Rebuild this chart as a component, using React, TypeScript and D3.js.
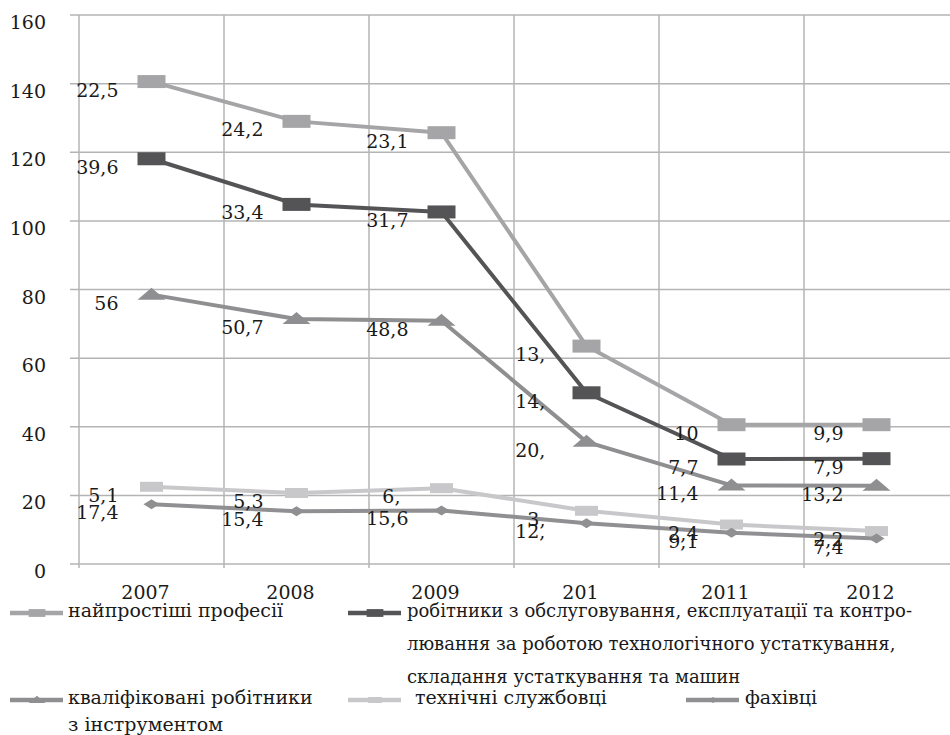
import React from 'react';
import * as d3 from 'd3';

const categories = ['2007', '2008', '2009', '201', '2011', '2012'];
const yTicks = [0, 20, 40, 60, 80, 100, 120, 140, 160];

// series values (stacked in the chart)
const simplest = [22.5, 24.2, 23.1, 13.6, 10, 9.9];
const workers = [39.6, 33.4, 31.7, 14.3, 7.7, 7.9];
const qualified = [56, 50.7, 48.8, 20.1, 11.4, 13.2];
const clerks = [5.1, 5.3, 6.5, 3.6, 2.4, 2.2];
const specialists = [17.4, 15.4, 15.6, 11.9, 9.1, 7.4];

// data labels as shown in the picture
const simplestLabels = ['22,5', '24,2', '23,1', '13,', '10', '9,9'];
const workersLabels = ['39,6', '33,4', '31,7', '14,', '7,7', '7,9'];
const qualifiedLabels = ['56', '50,7', '48,8', '20,', '11,4', '13,2'];
const clerksLabels = ['5,1', '5,3', '6,', '3,', '2,4', '2,2'];
const specialistsLabels = ['17,4', '15,4', '15,6', '12,', '9,1', '7,4'];

type Marker = 'square' | 'triangle' | 'diamond' | 'smallsquare';

const seriesDefs: { key: string; values: number[]; labels: string[]; color: string; marker: Marker }[] = [
  { key: 'specialists', values: specialists, labels: specialistsLabels, color: '#909092', marker: 'diamond' },
  { key: 'clerks', values: clerks, labels: clerksLabels, color: '#c8c8ca', marker: 'smallsquare' },
  { key: 'qualified', values: qualified, labels: qualifiedLabels, color: '#8f8f91', marker: 'triangle' },
  { key: 'workers', values: workers, labels: workersLabels, color: '#545456', marker: 'square' },
  { key: 'simplest', values: simplest, labels: simplestLabels, color: '#a5a5a7', marker: 'square' },
];

const legendItems: { key: string; lines: string[] }[] = [
  { key: 'simplest', lines: ['найпростіші професії'] },
  { key: 'workers', lines: ['робітники з обслуговування, експлуатації та контро-', 'лювання за роботою технологічного устаткування,', 'складання устаткування та машин'] },
  { key: 'qualified', lines: ['кваліфіковані робітники', 'з інструментом'] },
  { key: 'clerks', lines: ['технічні службовці'] },
  { key: 'specialists', lines: ['фахівці'] },
];

const W = 950;
const H = 735;
const FONT = '"DejaVu Serif", serif';

function markerPath(m: Marker, scale = 1): string {
  if (m === 'square') {
    const w = 14 * scale, h = 6.5 * scale;
    return `M${-w},${-h}H${w}V${h}H${-w}Z`;
  }
  if (m === 'smallsquare') {
    const w = 11.5 * scale, h = 5 * scale;
    return `M${-w},${-h}H${w}V${h}H${-w}Z`;
  }
  if (m === 'triangle') {
    const w = 14 * scale, h = 10 * scale;
    return `M${-w},${h * 0.5}L0,${-h * 0.7}L${w},${h * 0.5}Z`;
  }
  const w = 8 * scale, h = 5 * scale;
  return `M${-w},0L0,${-h}L${w},0L0,${h}Z`;
}

function estWidth(s: string): number {
  let w = 0;
  for (const c of s) w += c === ',' ? 6 : 12.1;
  return w;
}

export default function App() {
  const x = d3.scaleBand<string>().domain(categories).range([79, 949]).paddingInner(0).paddingOuter(0);
  const y = d3.scaleLinear().domain([0, 160]).range([564, 15]);
  const cx = (c: string) => (x(c) as number) + x.bandwidth() / 2;

  const table = categories.map((c, i) => {
    const row: Record<string, number | string> = { cat: c };
    seriesDefs.forEach((s) => (row[s.key] = s.values[i]));
    return row;
  });
  const stacked = d3.stack<any>().keys(seriesDefs.map((s) => s.key))(table as any);

  const line = d3
    .line<[number, number]>()
    .x((d) => d[0])
    .y((d) => d[1]);

  const colorOf: Record<string, string> = {};
  const markerOf: Record<string, Marker> = {};
  seriesDefs.forEach((s) => {
    colorOf[s.key] = s.color;
    markerOf[s.key] = s.marker;
  });

  const gridColor = '#b4b4b4';

  const drawOrder = [...stacked].reverse();

  const legendPos: Record<string, { sx: number; tx: number; ty: number; fs: number; lh: number }> = {
    simplest: { sx: 10, tx: 68, ty: 612, fs: 19, lh: 33 },
    workers: { sx: 348, tx: 407, ty: 612, fs: 18, lh: 33 },
    qualified: { sx: 10, tx: 68, ty: 699, fs: 19, lh: 27 },
    clerks: { sx: 348, tx: 415, ty: 699, fs: 19, lh: 27 },
    specialists: { sx: 686, tx: 745, ty: 699, fs: 19, lh: 27 },
  };

  return (
    <svg width={W} height={H} style={{ position: 'absolute', left: 0, top: 0, background: '#fff' }} fontFamily={FONT}>
      <rect x={0} y={0} width={W} height={H} fill="#fff" />
      {yTicks.map((t) => (
        <line key={'h' + t} x1={70} x2={W} y1={y(t)} y2={y(t)} stroke={gridColor} strokeWidth={1.5} />
      ))}
      {categories.map((c) => (
        <line key={'v' + c} x1={x(c) as number} x2={x(c) as number} y1={15} y2={568} stroke={gridColor} strokeWidth={1.5} />
      ))}
      {yTicks.map((t) => (
        <text key={'yl' + t} x={46} y={y(t) + 14} textAnchor="end" fontSize={19} fill="#1a1a1a">
          {t}
        </text>
      ))}
      {categories.map((c) => (
        <text key={'xl' + c} x={cx(c) - 6} y={599} textAnchor="middle" fontSize={19} fill="#1a1a1a">
          {c}
        </text>
      ))}
      {drawOrder.map((layer) => {
        const pts: [number, number][] = layer.map((d, i) => [cx(categories[i]), y(d[1])]);
        return (
          <g key={layer.key}>
            <path d={line(pts) || ''} fill="none" stroke={colorOf[layer.key]} strokeWidth={4} strokeLinejoin="round" />
            {pts.map((p, i) => (
              <path key={i} d={markerPath(markerOf[layer.key])} transform={`translate(${p[0]},${p[1]})`} fill={colorOf[layer.key]} />
            ))}
          </g>
        );
      })}
      {drawOrder.map((layer) => {
        const def = seriesDefs.find((s) => s.key === layer.key)!;
        return (
          <g key={'lab' + layer.key}>
            {layer.map((d, i) => {
              const px = cx(categories[i]);
              const py = y(d[1]);
              const lab = def.labels[i];
              const truncated = lab.endsWith(',');
              if (truncated) {
                const full = lab + '0';
                return (
                  <text key={i} x={px - 29 - estWidth(full)} y={py + 15} textAnchor="start" fontSize={19} fill="#1a1a1a">
                    {lab}
                  </text>
                );
              }
              return (
                <text key={i} x={px - 33} y={py + 15} textAnchor="end" fontSize={19} fill="#1a1a1a">
                  {lab}
                </text>
              );
            })}
          </g>
        );
      })}
      {legendItems.map((li) => {
        const p = legendPos[li.key];
        return (
          <g key={'lg' + li.key}>
            <line x1={p.sx} x2={p.sx + 53} y1={p.ty + 1} y2={p.ty + 1} stroke={colorOf[li.key]} strokeWidth={4.5} />
            <path d={markerPath(markerOf[li.key], 0.6)} transform={`translate(${p.sx + 27},${p.ty + 1})`} fill={colorOf[li.key]} />
            {li.lines.map((ln, k) => (
              <text key={k} x={p.tx} y={p.ty + 5 + k * p.lh} fontSize={p.fs} fill="#1a1a1a">
                {ln}
              </text>
            ))}
          </g>
        );
      })}
    </svg>
  );
}
